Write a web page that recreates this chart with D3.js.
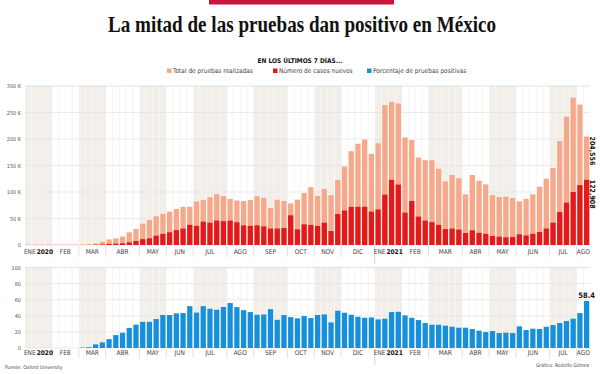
<!DOCTYPE html>
<html>
<head>
<meta charset="utf-8">
<style>
  body { margin: 0; background: #fff; }
  svg text { font-family: "Liberation Sans Narrow", "DejaVu Sans Condensed", "Roboto", sans-serif; }
  .g-hed { font-family: "Liberation Serif", "DejaVu Serif", serif !important; font-weight: bold; }
</style>
</head>
<body>
<div id="chart"></div>
<script src="https://d3js.org/d3.v7.min.js"></script>
<script>
// weekly data, Mexico, week of 8 Jan 2020 to week of 11 Aug 2021

var monthNames = ["ENE", "FEB", "MAR", "ABR", "MAY", "JUN", "JUL", "AGO", "SEP", "OCT", "NOV", "DIC"];

// total tests per week (thousands)
var totalTests = [
  0.8, 0.8, 0.9, 0.9,
  0.8, 0.8, 0.9, 0.9,
  1.0, 1.5, 3, 6,
  10.5, 12.5, 16, 24, 30,
  40, 47, 54, 59,
  63, 68, 72, 72,
  82, 85, 90, 96, 92,
  87, 84, 83, 85,
  92, 89, 70, 85.5, 83,
  78.6, 85.5, 98, 109,
  92.5, 105.7, 94, 122.6,
  148, 177, 191, 199, 172,
  192, 264, 270, 267,
  203, 198, 165, 160,
  160, 144, 120, 132, 126,
  95.6, 132, 121, 114.5,
  94, 90.6, 91, 88.7,
  82.4, 87, 95.6, 110, 125,
  145, 196, 242, 278,
  265, 204.556
];

// new cases per week (thousands)
var newCases = [
  0, 0, 0, 0,
  0, 0, 0, 0,
  0, 0.1, 0.5, 1,
  2, 2.5, 3.2, 5, 7.5,
  11, 12.6, 17.6, 21,
  24, 28, 31, 38,
  36, 44, 42, 46, 45,
  46, 43, 37, 36,
  37, 35, 31, 31, 32,
  56, 29.5, 39, 38,
  36, 42, 26.4, 58.5,
  65, 72, 72, 72, 63,
  67, 95, 123, 114,
  61, 83, 53.5, 46,
  43, 38, 30, 31, 29,
  22.6, 27.7, 23, 21,
  17, 15.7, 14.5, 15,
  20, 18, 21, 24.5, 31,
  42, 62, 80, 100,
  113, 122.908
];

// share of positive tests (%)
var positivity = [
  0, 0, 0, 0,
  0, 0, 0, 0,
  0.5, 1, 4.5, 7,
  11, 16, 19, 25, 29,
  32.5, 32.5, 36, 41,
  41, 43, 43.4, 52,
  44, 52, 48.8, 47.5, 51,
  55.8, 50.8, 47, 44.6,
  41.3, 41.7, 48.3, 35, 41,
  38.4, 36.8, 39.7, 37.2,
  41, 41.7, 31.8, 46.3,
  43.8, 41.3, 38.8, 37.6, 38,
  35.5, 36.4, 44.6, 45,
  40.5, 37.6, 34.7, 31,
  28.9, 28.9, 27.7, 26.4, 25.2,
  25.2, 23.6, 21.5, 19.8,
  21, 18.6, 19, 18.6,
  26.9, 22.3, 24, 23.6, 26.4,
  28.5, 31, 33.5, 36.4,
  43.4, 58.4
];

var topTicks = [0, 50, 100, 150, 200, 250, 300];
var bottomTicks = [0, 20, 40, 60, 80, 100];

var colTotal = "#f5a98a",
    colCases = "#e3191c",
    colPct = "#1690dc",
    colShade = "#f2efea";

var width = 600, height = 374;

var svg = d3.select("#chart").append("svg")
    .attr("width", width)
    .attr("height", height);

// weeks are Wednesdays
var weeks = d3.timeWednesday.range(new Date(2020, 0, 8), new Date(2021, 7, 12));
var idx = d3.range(weeks.length);

var x = d3.scaleBand()
    .domain(idx)
    .range([25, 590])
    .paddingInner(0.22)
    .paddingOuter(0.11);

var step = x.step();
var off = (step - x.bandwidth()) / 2;
function left(i) { return x(i) - off; }

// group weeks by month
var months = [];
weeks.forEach(function(w, i) {
    var key = w.getFullYear() + "-" + w.getMonth();
    var last = months[months.length - 1];
    if (!last || last.key !== key) {
        months.push({ key: key, m: w.getMonth(), year: w.getFullYear(), start: i, end: i });
    } else {
        last.end = i;
    }
});
months.forEach(function(d, k) {
    d.x0 = left(d.start);
    d.x1 = left(d.end) + step;
    d.shaded = k % 2 === 0;
});

var yTop = d3.scaleLinear().domain([0, 300]).range([245, 86]);
var yBot = d3.scaleLinear().domain([0, 100]).range([348, 267.5]);

// header
svg.append("rect")
    .attr("x", 209).attr("y", 0)
    .attr("width", 185).attr("height", 4.5)
    .attr("fill", "#c8143c");

svg.append("text")
    .attr("class", "g-hed")
    .attr("x", 108).attr("y", 32)
    .attr("textLength", 388)
    .attr("lengthAdjust", "spacingAndGlyphs")
    .style("font-size", "23px")
    .attr("fill", "#111")
    .text("La mitad de las pruebas dan positivo en México");

svg.append("text")
    .attr("x", 300).attr("y", 62.5)
    .attr("text-anchor", "middle")
    .style("font-size", "6.5px")
    .style("font-weight", "bold")
    .attr("fill", "#111")
    .text("EN LOS ÚLTIMOS 7 DÍAS...");

var legendItems = [
    { label: "Total de pruebas realizadas", color: colTotal, x: 167 },
    { label: "Número de casos nuevos", color: colCases, x: 273 },
    { label: "Porcentaje de pruebas positivas", color: colPct, x: 367 }
];
var lg = svg.append("g").selectAll("g").data(legendItems).enter().append("g");
lg.append("rect")
    .attr("x", d => d.x).attr("y", 68.5)
    .attr("width", 4.5).attr("height", 4.5)
    .attr("fill", d => d.color);
lg.append("text")
    .attr("x", d => d.x + 6).attr("y", 73)
    .style("font-size", "6.5px")
    .attr("fill", "#444")
    .text(d => d.label);

function drawPanel(y, ticks, fmt, top, bottom) {
    var g = svg.append("g");

    // month shading
    g.selectAll(".shade")
        .data(months.filter(d => d.shaded))
        .enter().append("rect")
        .attr("x", d => d.x0)
        .attr("y", top)
        .attr("width", d => d.x1 - d.x0)
        .attr("height", bottom - top)
        .attr("fill", colShade);

    // weekly vertical grid
    g.selectAll(".vgrid")
        .data(idx.slice(1))
        .enter().append("line")
        .attr("x1", d => left(d)).attr("x2", d => left(d))
        .attr("y1", top).attr("y2", bottom)
        .attr("stroke", function(d) {
            var mo = months.find(m => d >= m.start && d <= m.end);
            return mo.shaded ? "#fbfaf8" : "#ececec";
        })
        .attr("stroke-width", 0.6);

    // horizontal grid
    g.selectAll(".hgrid")
        .data(ticks)
        .enter().append("line")
        .attr("x1", 25).attr("x2", 590)
        .attr("y1", d => y(d)).attr("y2", d => y(d))
        .attr("stroke", (d, i) => i === ticks.length - 1 ? "#d6d6d6" : "#e2e2e2")
        .attr("stroke-width", 0.7);

    // tick labels
    g.selectAll(".ylab")
        .data(ticks)
        .enter().append("text")
        .attr("x", 21)
        .attr("y", d => y(d) + 2)
        .attr("text-anchor", "end")
        .style("font-size", "5.5px")
        .attr("fill", "#555")
        .text(fmt);

    return g;
}

function drawMonthAxis(yLab, sepTop, sepBottom) {
    var g = svg.append("g");
    g.selectAll(".sep")
        .data(months.slice(1))
        .enter().append("line")
        .attr("x1", d => d.x0).attr("x2", d => d.x0)
        .attr("y1", sepTop)
        .attr("y2", d => d.m === 0 ? sepBottom + 7 : sepBottom)
        .attr("stroke", d => d.m === 0 ? "#bbb" : "#ccc")
        .attr("stroke-width", 0.6);

    var t = g.selectAll(".mlab")
        .data(months)
        .enter().append("text")
        .attr("x", d => (d.x0 + d.x1) / 2)
        .attr("y", yLab)
        .attr("text-anchor", "middle")
        .style("font-size", "6.5px")
        .attr("fill", "#444");
    t.append("tspan").text(d => monthNames[d.m]);
    t.filter(d => d.m === 0).append("tspan")
        .attr("dx", 1)
        .style("font-weight", "bold")
        .attr("fill", "#111")
        .text(d => d.year);
}

// top panel
drawPanel(yTop, topTicks, d => d === 0 ? "0" : d + " K", 86, 245);

svg.append("g").selectAll("rect")
    .data(idx)
    .enter().append("rect")
    .attr("x", d => x(d))
    .attr("width", x.bandwidth())
    .attr("y", d => yTop(totalTests[d]))
    .attr("height", d => yTop(0) - yTop(totalTests[d]))
    .attr("fill", colTotal);

svg.append("g").selectAll("rect")
    .data(idx)
    .enter().append("rect")
    .attr("x", d => x(d))
    .attr("width", x.bandwidth())
    .attr("y", d => yTop(newCases[d]))
    .attr("height", d => yTop(0) - yTop(newCases[d]))
    .attr("fill", colCases);

drawMonthAxis(254, 246, 257);

// last-week labels, rotated
var lastI = idx.length - 1;
[totalTests[lastI], newCases[lastI]].forEach(function(v) {
    svg.append("text")
        .attr("transform", "translate(" + (x(lastI) + x.bandwidth() + 1.2) + "," + yTop(v) + ") rotate(90)")
        .style("font-size", "7px")
        .style("font-weight", "bold")
        .attr("fill", "#111")
        .text(d3.format(",")(Math.round(v * 1000)));
});

// bottom panel
drawPanel(yBot, bottomTicks, d => d, 267.5, 348);

svg.append("g").selectAll("rect")
    .data(idx)
    .enter().append("rect")
    .attr("x", d => x(d))
    .attr("width", x.bandwidth())
    .attr("y", d => yBot(positivity[d]))
    .attr("height", d => yBot(0) - yBot(positivity[d]))
    .attr("fill", colPct);

drawMonthAxis(355, 349, 358);

svg.append("text")
    .attr("x", x(lastI) + x.bandwidth() / 2)
    .attr("y", yBot(positivity[lastI]) - 3)
    .attr("text-anchor", "middle")
    .style("font-size", "7.5px")
    .style("font-weight", "bold")
    .attr("fill", "#111")
    .text(positivity[lastI]);

// source and credit
svg.append("text")
    .attr("x", 5).attr("y", 369)
    .style("font-size", "5px")
    .attr("fill", "#444")
    .text("Fuente: Oxford University");

svg.append("text")
    .attr("x", 589).attr("y", 367)
    .attr("text-anchor", "end")
    .style("font-size", "5px")
    .attr("fill", "#444")
    .text("Gráfico: Rodolfo Gómez");
</script>
</body>
</html>
